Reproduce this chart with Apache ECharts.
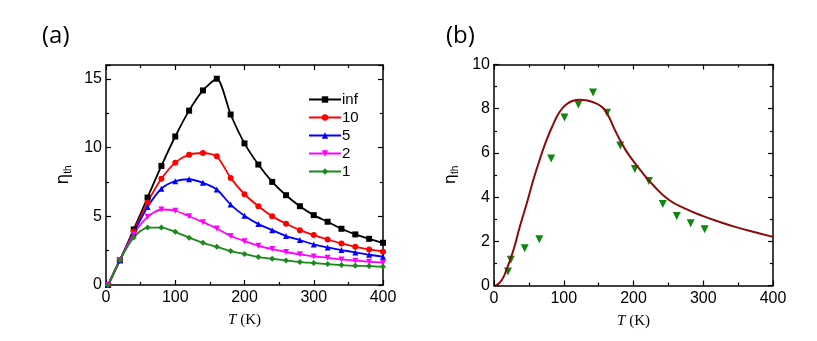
<!DOCTYPE html>
<html>
<head>
<meta charset="utf-8">
<script src="https://cdn.jsdelivr.net/npm/echarts@6.0.0/dist/echarts.min.js"></script>
<style>
  html, body { margin: 0; padding: 0; background: #fff; }
  #main { width: 817px; height: 341px; }
</style>
</head>
<body>
<div id="main"></div>
<script>
// panel (a): temperature grid shared by all five curves
const tempA = [3, 20, 40, 60, 80, 100, 120, 140, 160, 180, 200, 220, 240, 260, 280, 300, 320, 340, 360, 380, 400]

const etaInf = [0, 1.8, 4.04, 6.36, 8.66, 10.8, 12.68, 14.15, 15.0, 12.4, 10.3, 8.76, 7.5, 6.53, 5.73, 5.08, 4.6, 4.09, 3.68, 3.36, 3.07]
const eta10 = [0, 1.8, 3.9, 6.0, 7.72, 8.9, 9.48, 9.6, 9.36, 7.79, 6.6, 5.73, 5.0, 4.45, 3.99, 3.63, 3.31, 3.02, 2.78, 2.59, 2.42]
const eta5 = [0, 1.8, 3.8, 5.68, 7.0, 7.55, 7.69, 7.43, 6.94, 5.85, 5.03, 4.43, 3.99, 3.56, 3.27, 2.95, 2.73, 2.54, 2.37, 2.2, 2.06]
const eta2 = [0, 1.8, 3.7, 4.96, 5.49, 5.4, 5.0, 4.57, 4.11, 3.56, 3.19, 2.85, 2.61, 2.4, 2.23, 2.08, 1.98, 1.86, 1.77, 1.69, 1.62]
const eta1 = [0, 1.8, 3.46, 4.18, 4.18, 3.87, 3.44, 3.07, 2.78, 2.47, 2.25, 2.03, 1.91, 1.79, 1.67, 1.6, 1.52, 1.45, 1.4, 1.38, 1.33]

// panel (b): model curve and measured points
const curveT = [3, 11, 18, 28, 37, 47, 56, 66, 75, 85, 94, 104, 113, 123, 132, 147, 156, 163, 173, 180, 187, 194, 209, 228, 251, 275, 299, 323, 347, 370, 400]
const curveEta = [0, 0.24, 0.72, 1.62, 2.66, 3.72, 4.74, 5.74, 6.56, 7.3, 7.85, 8.2, 8.36, 8.41, 8.38, 8.23, 8.04, 7.74, 7.06, 6.62, 6.22, 5.88, 5.25, 4.55, 3.87, 3.47, 3.15, 2.88, 2.64, 2.44, 2.2]

const measT = [20, 24, 44, 65, 82, 101, 121, 142, 162, 181, 202, 222, 242, 262, 282, 302]
const measEta = [0.63, 1.16, 1.69, 2.09, 5.75, 7.6, 8.19, 8.73, 7.82, 6.33, 5.27, 4.73, 3.69, 3.15, 2.82, 2.55]

const seriesA = [
  { name: 'inf', data: etaInf, color: '#000000', symbol: 'rect' },
  { name: '10', data: eta10, color: '#ff0000', symbol: 'circle' },
  { name: '5', data: eta5, color: '#0000ff', symbol: 'triangle' },
  { name: '2', data: eta2, color: '#ff00ff', symbol: 'triangle', rotate: 180 },
  { name: '1', data: eta1, color: '#1a8a1a', symbol: 'diamond' }
]

const zip = (xs, ys) => xs.map((x, i) => [x, ys[i]])

const labelFont = 'Liberation Sans'
const tickStyle = { show: true, inside: true, length: 5, lineStyle: { color: '#000', width: 1.2 } }
const minorStyle = { show: true, splitNumber: 2, length: 3, lineStyle: { color: '#000', width: 1.2 } }
const lineStyle = { show: true, lineStyle: { color: '#000', width: 1.5 } }

// bottom/left axes with labels, top/right mirror axes with ticks only
const makeX = (gridIndex, position, withLabels) => ({
  type: 'value', gridIndex, position, min: 0, max: 400, interval: 100,
  axisLine: { ...lineStyle, onZero: false },
  axisTick: tickStyle,
  minorTick: minorStyle,
  splitLine: { show: false },
  axisLabel: { show: withLabels, color: '#000', fontSize: 16, fontFamily: labelFont, margin: 5 },
  name: withLabels ? '{i|T} (K)' : '',
  nameLocation: 'middle',
  nameGap: 28,
  nameTextStyle: {
    color: '#000', fontSize: 15, fontFamily: 'Liberation Serif',
    rich: { i: { fontStyle: 'italic', fontSize: 15, fontFamily: 'Liberation Serif', color: '#000' } }
  }
})

const makeY = (gridIndex, position, withLabels, max, interval, nameGap, etaSize) => ({
  type: 'value', gridIndex, position, min: 0, max, interval,
  axisLine: { ...lineStyle, onZero: false },
  axisTick: tickStyle,
  minorTick: minorStyle,
  splitLine: { show: false },
  axisLabel: {
    show: withLabels, color: '#000', fontSize: 16, fontFamily: labelFont, margin: 4,
    formatter: v => (v % interval === 0 ? String(v) : '')
  },
  name: withLabels ? '{e|η}{s|th}' : '',
  nameLocation: 'middle',
  nameRotate: 90,
  nameGap,
  nameTextStyle: {
    rich: {
      e: { fontSize: etaSize, fontFamily: 'DejaVu Sans', color: '#000' },
      s: { fontSize: Math.round(etaSize * 0.6), fontFamily: labelFont, color: '#000', verticalAlign: 'bottom', padding: [etaSize * 0.5, 0, 0, 0] }
    }
  }
})

const option = {
  backgroundColor: '#fff',
  animation: false,
  title: [
    { text: '(a)', left: 37, top: 19, textStyle: { fontSize: 24, fontWeight: 'normal', fontFamily: 'Open Sans', color: '#000' } },
    { text: '(b)', left: 441, top: 19, textStyle: { fontSize: 24, fontWeight: 'normal', fontFamily: 'Open Sans', color: '#000' } }
  ],
  grid: [
    { left: 106, right: 434, top: 65, bottom: 56 },
    { left: 494, right: 44, top: 64.5, bottom: 55.5 }
  ],
  legend: {
    left: 303, top: 87, orient: 'vertical',
    itemWidth: 32, itemHeight: 8, itemGap: 3,
    textStyle: { color: '#000', fontSize: 15, fontFamily: labelFont, lineHeight: 14, padding: [0, 0, 0, -4] },
    data: seriesA.map(s => s.name)
  },
  xAxis: [makeX(0, 'bottom', true), makeX(0, 'top', false), makeX(1, 'bottom', true), makeX(1, 'top', false)],
  yAxis: [
    makeY(0, 'left', true, 16, 5, 33, 17), makeY(0, 'right', false, 16, 5, 0, 17),
    makeY(1, 'left', true, 10, 2, 34, 16), makeY(1, 'right', false, 10, 2, 0, 16)
  ],
  series: [
    ...seriesA.map(s => ({
      name: s.name, type: 'line', xAxisIndex: 0, yAxisIndex: 0,
      data: zip(tempA, s.data),
      symbol: s.symbol, symbolRotate: s.rotate || 0, symbolSize: 6,
      showSymbol: true,
      color: s.color,
      itemStyle: { color: s.color },
      lineStyle: { color: s.color, width: 1.8 },
      smooth: 0.25
    })),
    {
      name: 'model', type: 'line', xAxisIndex: 2, yAxisIndex: 2,
      data: zip(curveT, curveEta),
      showSymbol: false, smooth: 0.5,
      lineStyle: { color: '#8b0a0a', width: 2 }
    },
    {
      name: 'measured', type: 'scatter', xAxisIndex: 2, yAxisIndex: 2,
      data: zip(measT, measEta),
      symbol: 'triangle', symbolRotate: 180, symbolSize: 8,
      itemStyle: { color: '#0e870e', opacity: 1 }
    }
  ]
}

const myChart = echarts.init(document.getElementById('main'))
myChart.setOption(option)
</script>
</body>
</html>
